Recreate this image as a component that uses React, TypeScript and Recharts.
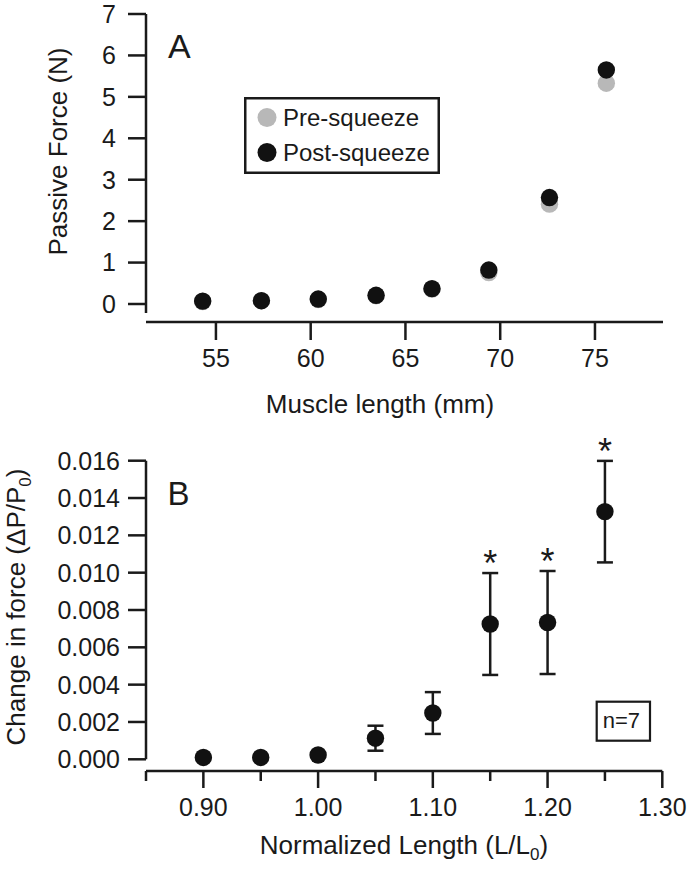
import React from 'react';
import { ScatterChart, Scatter, XAxis, YAxis, ErrorBar, Legend } from 'recharts';

// ---------- Panel A data ----------
const lengthMm = [54.3, 57.4, 60.4, 63.45, 66.4, 69.4, 72.6, 75.6];
const preSqueeze = [0.06, 0.08, 0.11, 0.2, 0.36, 0.76, 2.41, 5.33];
const postSqueeze = [0.07, 0.08, 0.12, 0.21, 0.37, 0.82, 2.57, 5.65];
const seriesNamesA = ['Pre-squeeze', 'Post-squeeze'];
const xTicksA = [55, 60, 65, 70, 75];
const yTicksA = [0, 1, 2, 3, 4, 5, 6, 7];

// ---------- Panel B data ----------
const normLength = [0.9, 0.95, 1.0, 1.05, 1.1, 1.15, 1.2, 1.25];
const deltaForce = [0.0001, 0.0001, 0.00023, 0.00113, 0.00248, 0.00725, 0.00733, 0.01327];
const deltaErr = [0.00005, 0.00005, 0.0001, 0.00067, 0.00112, 0.00273, 0.00276, 0.00272];
const significant = [false, false, false, false, false, true, true, true];
const xTicksB = [0.85, 0.9, 0.95, 1.0, 1.05, 1.1, 1.15, 1.2, 1.25, 1.3];
const yTicksB = [0, 0.002, 0.004, 0.006, 0.008, 0.01, 0.012, 0.014, 0.016];

const FONT = "'Liberation Sans', Arial, Helvetica, sans-serif";
const INK = '#1a1a1a';
const PRE_COLOR = '#b8b8b8';
const POST_COLOR = '#111111';

const preData = lengthMm.map((x, i) => ({ x, y: preSqueeze[i] }));
const postData = lengthMm.map((x, i) => ({ x, y: postSqueeze[i] }));
const dataB = normLength.map((x, i) => ({ x, y: deltaForce[i], err: deltaErr[i] }));
const starData = normLength
  .map((x, i) => ({ x, y: deltaForce[i] + deltaErr[i], sig: significant[i] }))
  .filter((d) => d.sig);

const Dot = (color: string) => (props: any) => (
  <circle cx={props.cx} cy={props.cy} r={8.7} fill={color} />
);

const Star = (props: any) => (
  <text x={props.cx} y={props.cy + 3} textAnchor="middle" fontSize={36} fontFamily={FONT} fill={INK}>
    *
  </text>
);

const XTickA = (props: any) => {
  const { x, y, payload } = props;
  return (
    <g>
      <line x1={x} x2={x} y1={y} y2={y + 18} stroke={INK} strokeWidth={2.5} />
      <text x={x} y={y + 44.7} textAnchor="middle" fontSize={25} fontFamily={FONT} fill={INK}>
        {payload.value}
      </text>
    </g>
  );
};

const XTickB = (props: any) => {
  const { x, y, payload, index } = props;
  const major = index % 2 === 1;
  return (
    <g>
      <line x1={x} x2={x} y1={y} y2={y + (major ? 17 : 10)} stroke={INK} strokeWidth={2.5} />
      {major && (
        <text x={x} y={y + 45} textAnchor="middle" fontSize={25} fontFamily={FONT} fill={INK}>
          {Number(payload.value).toFixed(2)}
        </text>
      )}
    </g>
  );
};

const LegendBox = (props: any) => {
  const items = (props.payload || [])
    .filter((p: any) => seriesNamesA.includes(p.value))
    .sort((a: any, b: any) => seriesNamesA.indexOf(a.value) - seriesNamesA.indexOf(b.value));
  return (
    <svg width={196} height={77} style={{ display: 'block' }}>
      <rect x={1.25} y={1.25} width={193.5} height={74.5} fill="#fff" stroke={INK} strokeWidth={2.5} />
      {items.map((p: any, i: number) => (
        <g key={p.value}>
          <circle cx={23} cy={20.5 + i * 35} r={9.5} fill={p.color} />
          <text x={39} y={29 + i * 35} fontSize={24} fontFamily={FONT} fill={INK}>
            {p.value}
          </text>
        </g>
      ))}
    </svg>
  );
};

const axisStroke = { stroke: INK, strokeWidth: 2.5 };
const tickText = { fontSize: 25, fill: INK, fontFamily: FONT };

export default function App() {
  return (
    <div style={{ position: 'absolute', left: 0, top: 0, width: 691, height: 869, background: '#fff' }}>
      <div style={{ position: 'absolute', left: 0, top: 0 }}>
        <ScatterChart width={691} height={434} margin={{ top: 14, right: 28, bottom: 52, left: 0 }}>
          <XAxis
            type="number"
            dataKey="x"
            domain={[51.31, 78.59]}
            ticks={xTicksA}
            height={60}
            tickSize={0}
            tickMargin={0}
            tickLine={false}
            axisLine={axisStroke}
            tick={<XTickA />}
          />
          <YAxis
            type="number"
            dataKey="y"
            domain={[-0.4345, 7]}
            ticks={yTicksA}
            width={146}
            tickSize={18}
            tickMargin={12}
            tickLine={axisStroke}
            axisLine={{ ...axisStroke, strokeDasharray: '299 40' }}
            tick={tickText}
          />
          <Legend
            layout="vertical"
            align="center"
            verticalAlign="middle"
            content={<LegendBox />}
            wrapperStyle={{ position: 'absolute', left: 244, top: 97, width: 196, height: 77 }}
          />
          <Scatter name={seriesNamesA[0]} data={preData} fill={PRE_COLOR} shape={Dot(PRE_COLOR)} isAnimationActive={false} />
          <Scatter name={seriesNamesA[1]} data={postData} fill={POST_COLOR} shape={Dot(POST_COLOR)} isAnimationActive={false} />
        </ScatterChart>
      </div>

      <div style={{ position: 'absolute', left: 0, top: 414 }}>
        <ScatterChart width={691} height={455} margin={{ top: 46.7, right: 28.7, bottom: 38, left: 0 }}>
          <XAxis
            type="number"
            dataKey="x"
            domain={[0.85, 1.3]}
            ticks={xTicksB}
            height={60}
            tickSize={0}
            tickMargin={0}
            tickLine={false}
            axisLine={axisStroke}
            tick={<XTickB />}
            interval={0}
          />
          <YAxis
            type="number"
            dataKey="y"
            domain={[-0.000627, 0.016]}
            ticks={yTicksB}
            width={146}
            tickSize={18}
            tickMargin={8}
            tickLine={axisStroke}
            axisLine={{ ...axisStroke, strokeDasharray: '298.6 40' }}
            tick={tickText}
            tickFormatter={(v: number) => v.toFixed(3)}
            interval={0}
          />
          <Scatter name="Change" data={dataB} fill={POST_COLOR} shape={Dot(POST_COLOR)} isAnimationActive={false}>
            <ErrorBar dataKey="err" direction="y" width={8} stroke={INK} strokeWidth={2.5} isAnimationActive={false} />
          </Scatter>
          <Scatter name="sig" data={starData} fill={INK} shape={Star} isAnimationActive={false} legendType="none" />
        </ScatterChart>
      </div>

      <svg
        width={691}
        height={869}
        style={{ position: 'absolute', left: 0, top: 0, pointerEvents: 'none' }}
        fontFamily={FONT}
        fill={INK}
      >
        <text x={168} y={57.7} fontSize={34}>A</text>
        <text x={167.5} y={505} fontSize={33}>B</text>
        <text x={67} y={151.5} fontSize={26} textAnchor="middle" transform="rotate(-90 67 151.5)">
          Passive Force (N)
        </text>
        <text x={380} y={413} fontSize={26} textAnchor="middle">Muscle length (mm)</text>
        <text x={24.5} y={607} fontSize={26} textAnchor="middle" transform="rotate(-90 24.5 607)">
          Change in force (ΔP/P<tspan dy={6} fontSize={17}>0</tspan><tspan dy={-6}>)</tspan>
        </text>
        <text x={404} y={854} fontSize={26} textAnchor="middle">
          Normalized Length (L/L<tspan dy={6} fontSize={17}>0</tspan><tspan dy={-6}>)</tspan>
        </text>
        <rect x={596.7} y={701.7} width={53.3} height={39} fill="none" stroke={INK} strokeWidth={2.2} />
        <text x={602.7} y={728.3} fontSize={22}>n=7</text>
      </svg>
    </div>
  );
}
